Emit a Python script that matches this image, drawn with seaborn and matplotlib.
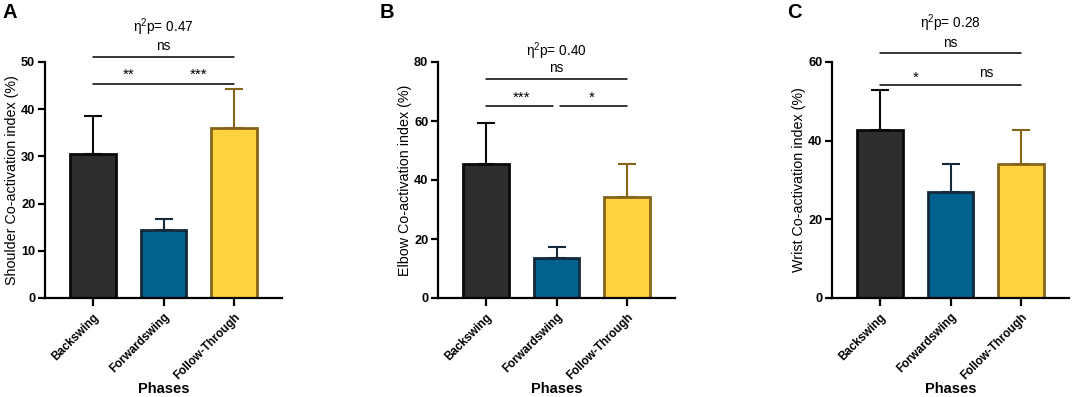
import matplotlib
matplotlib.use("Agg")
import matplotlib.pyplot as plt
import seaborn as sns
import pandas as pd
import numpy as np

sns.set_theme(style="ticks")
plt.rcParams['font.family'] = ['Liberation Sans', 'DejaVu Sans']
plt.rcParams['mathtext.default'] = 'regular'
for k in ["text.color", "axes.labelcolor", "xtick.color", "ytick.color", "axes.edgecolor"]:
    plt.rcParams[k] = "black"

# ---------------- data ----------------
phases = ["Backswing", "Forwardswing", "Follow-Through"]

shoulder_mean = [30.5, 14.4, 36.0]
shoulder_sd = [8.1, 2.3, 8.3]

elbow_mean = [45.3, 13.7, 34.4]
elbow_sd = [14.0, 3.6, 11.0]

wrist_mean = [42.6, 27.0, 34.0]
wrist_sd = [10.3, 7.0, 8.8]

panel_letters = ["A", "B", "C"]
ylabels = ["Shoulder Co-activation index (%)",
           "Elbow Co-activation index (%)",
           "Wrist Co-activation index (%)"]
yticks_list = [[0, 10, 20, 30, 40, 50], [0, 20, 40, 60, 80], [0, 20, 40, 60]]
eta_labels = ["0.47", "0.40", "0.28"]

# significance: (from idx, to idx, label)
sig_A = [(0, 2, "ns"), (0, 1, "**"), (1, 2, "***")]
sig_B = [(0, 2, "ns"), (0, 1, "***"), (1, 2, "*")]
sig_C = [(0, 2, "ns"), (0, 1, "*"), (1, 2, "ns")]

fill_colors = ["#2e2e2e", "#03618f", "#ffd33f"]
edge_colors = ["#0a0a0a", "#142a3a", "#86651a"]

fig = plt.figure(figsize=(10.72, 3.97), dpi=100)
lefts = [45 / 1072, 438 / 1072, 832 / 1072]
bottom = 1 - 298 / 397
height = (298 - 62) / 397
width = 237 / 1072

panels = [
    (shoulder_mean, shoulder_sd, sig_A),
    (elbow_mean, elbow_sd, sig_B),
    (wrist_mean, wrist_sd, sig_C),
]

for i, (means, sds, sigs) in enumerate(panels):
    ax = fig.add_axes([lefts[i], bottom, width, height])
    df = pd.DataFrame({"Phase": phases, "Value": means})
    sns.barplot(data=df, x="Phase", y="Value", hue="Phase", palette=fill_colors,
                legend=False, width=0.64, errorbar=None, ax=ax, saturation=1)
    for p, ec in zip(ax.patches, edge_colors):
        p.set_edgecolor(ec)
        p.set_linewidth(2.0)
    for j in range(3):
        ax.errorbar(j, means[j], yerr=[[0], [sds[j]]], fmt="none",
                    ecolor=edge_colors[j], elinewidth=1.5, capsize=6.5,
                    capthick=1.5, zorder=1)
    ymax = yticks_list[i][-1]
    ax.set_ylim(0, ymax)
    ax.set_xlim(-0.68, 2.68)
    ax.set_yticks(yticks_list[i])
    sns.despine(ax=ax)
    for s in ["left", "bottom"]:
        ax.spines[s].set_linewidth(1.6)
        ax.spines[s].set_color("black")
    ax.tick_params(axis="both", width=1.6, length=5, color="black")
    ax.tick_params(axis="x", length=6)
    ax.tick_params(axis="y", pad=2)
    for lab in ax.get_yticklabels():
        lab.set_fontweight("bold")
        lab.set_fontsize(9.2)
    ax.set_xticks(range(3))
    ax.set_xticklabels(phases, rotation=45, ha="right", rotation_mode="anchor",
                       fontweight="bold", fontsize=8.4)
    ax.set_xlabel("Phases", fontweight="bold", fontsize=10.5)
    ax.xaxis.set_label_coords(0.5, -91 / 236)
    ax.xaxis.label.set_va("center")
    ax.set_ylabel(ylabels[i], fontsize=10.3)
    ax.yaxis.label.set_va("center")
    ax.yaxis.set_label_coords(-33 / 237, 0.5)

    u = ymax / 236.0  # data units per pixel
    lw = 1.1
    fs = 9.8
    if i == 0:
        l1, l2 = 51.1, 45.3
        ax.plot([0, 2], [l1, l1], color="black", lw=lw, clip_on=False)
        ax.plot([0, 2], [l2, l2], color="black", lw=lw, clip_on=False)
        ax.text(1, l1 + 11 * u, sigs[0][2], ha="center", va="center", fontsize=fs)
        ax.text(0.5, l2 + 9 * u, sigs[1][2], ha="center", va="center", fontsize=fs + 1)
        ax.text(1.5, l2 + 9 * u, sigs[2][2], ha="center", va="center", fontsize=fs + 1)
        eta_y = l1 + 30 * u
    elif i == 1:
        l1, l2 = 74.2, 65.1
        ax.plot([0, 2], [l1, l1], color="black", lw=lw, clip_on=False)
        ax.plot([0, 0.95], [l2, l2], color="black", lw=lw, clip_on=False)
        ax.plot([1.05, 2], [l2, l2], color="black", lw=lw, clip_on=False)
        ax.text(1, l1 + 11 * u, sigs[0][2], ha="center", va="center", fontsize=fs)
        ax.text(0.5, l2 + 8 * u, sigs[1][2], ha="center", va="center", fontsize=fs + 1)
        ax.text(1.5, l2 + 8 * u, sigs[2][2], ha="center", va="center", fontsize=fs + 1)
        eta_y = l1 + 28 * u
    else:
        l1, l2 = 62.2, 54.2
        ax.plot([0, 2], [l1, l1], color="black", lw=lw, clip_on=False)
        ax.plot([0, 2], [l2, l2], color="black", lw=lw, clip_on=False)
        ax.text(1, l1 + 10 * u, sigs[0][2], ha="center", va="center", fontsize=fs)
        ax.text(0.5, l2 + 7 * u, sigs[1][2], ha="center", va="center", fontsize=fs + 1)
        ax.text(1.5, l2 + 12 * u, sigs[2][2], ha="center", va="center", fontsize=fs)
        eta_y = l1 + 30 * u
    ax.text(1, eta_y, "η$^{2}$p= " + eta_labels[i], ha="center", va="center",
            fontsize=fs)

letter_x = [10 / 1072, 387 / 1072, 794 / 1072]
for lx, letter in zip(letter_x, panel_letters):
    fig.text(lx, 1 - 12 / 397, letter, fontsize=14.5, fontweight="bold",
             ha="center", va="center")

fig.savefig("out.png", dpi=100)
